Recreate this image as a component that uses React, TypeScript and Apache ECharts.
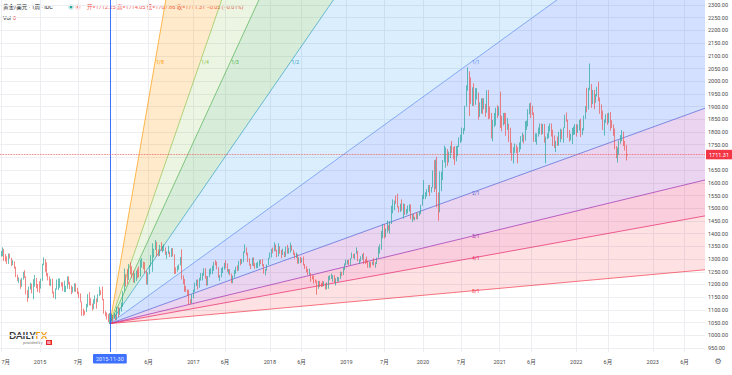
import React, { useEffect, useRef } from "react";
import * as echarts from "echarts";

// ---------- data ----------
const firstOpen = 1315;
// weekly candles per year: [high, low, close]; open = previous close
const yearStarts = ["2014-06-23", "2015-01-05", "2016-01-04", "2017-01-02", "2018-01-01", "2019-01-07", "2020-01-06", "2021-01-04", "2022-01-03"];
const w2014 = [[1326,1307,1316],[1332,1310,1320],[1346,1311,1337],[1340,1293,1310],[1320,1290,1307],[1311,1281,1294],[1322,1281,1310],[1322,1302,1305],[1305,1273,1280],[1296,1276,1287],[1291,1262,1267],[1270,1229,1231],[1239,1214,1216],[1228,1205,1218],[1220,1183,1192],[1226,1191,1222],[1250,1219,1238],[1256,1226,1231],[1232,1161,1171],[1178,1132,1169],[1192,1146,1187],[1207,1180,1201],[1203,1165,1167],[1221,1142,1191],[1238,1191,1222],[1225,1185,1196],[1202,1170,1195],[1213,1167,1186]];
const w2015 = [[1223,1184,1216],[1282,1214,1277],[1307,1276,1294],[1300,1250,1279],[1287,1232,1234],[1245,1216,1227],[1232,1196,1204],[1222,1194,1213],[1223,1164,1167],[1172,1147,1152],[1185,1142,1184],[1220,1180,1199],[1224,1178,1201],[1224,1187,1207],[1209,1192,1203],[1209,1175,1177],[1215,1170,1179],[1195,1170,1189],[1232,1183,1225],[1232,1200,1205],[1211,1181,1189],[1196,1162,1168],[1191,1169,1180],[1205,1172,1201],[1204,1170,1173],[1187,1162,1168],[1172,1147,1157],[1165,1130,1132],[1133,1077,1098],[1105,1077,1095],[1097,1080,1094],[1124,1092,1113],[1162,1110,1159],[1170,1118,1134],[1146,1117,1121],[1125,1098,1103],[1142,1103,1138],[1157,1124,1145],[1145,1105,1137],[1162,1130,1156],[1191,1155,1177],[1178,1159,1163],[1192,1138,1142],[1143,1085,1088],[1095,1075,1081],[1090,1062,1076],[1084,1052,1057],[1088,1046,1061],[1085,1058,1075],[1080,1047,1065],[1088,1065,1076],[1082,1058,1061]];
const w2016 = [[1112,1062,1098],[1112,1072,1089],[1107,1080,1097],[1129,1093,1118],[1174,1112,1173],[1263,1172,1239],[1240,1191,1227],[1261,1201,1222],[1280,1218,1271],[1287,1239,1259],[1272,1226,1254],[1255,1208,1220],[1245,1206,1222],[1255,1214,1243],[1263,1224,1234],[1271,1228,1231],[1297,1232,1290],[1304,1267,1290],[1290,1261,1273],[1288,1245,1252],[1254,1200,1212],[1248,1199,1243],[1277,1240,1275],[1316,1271,1298],[1362,1250,1315],[1341,1306,1340],[1375,1336,1366],[1368,1310,1327],[1338,1311,1323],[1356,1312,1351],[1367,1332,1336],[1352,1326,1336],[1358,1332,1341],[1346,1316,1321],[1330,1301,1326],[1352,1320,1328],[1330,1308,1310],[1343,1308,1338],[1343,1310,1315],[1319,1241,1257],[1267,1242,1251],[1274,1250,1266],[1279,1258,1275],[1308,1275,1304],[1338,1220,1225],[1236,1201,1208],[1222,1171,1178],[1194,1171,1177],[1181,1156,1159],[1179,1122,1134],[1142,1123,1133],[1161,1126,1151]];
const w2017 = [[1180,1146,1173],[1207,1171,1196],[1219,1194,1210],[1220,1180,1190],[1226,1187,1220],[1245,1215,1234],[1245,1216,1238],[1264,1234,1257],[1264,1223,1227],[1233,1195,1201],[1233,1196,1229],[1261,1229,1245],[1264,1240,1249],[1274,1241,1255],[1289,1254,1285],[1296,1275,1284],[1290,1260,1268],[1267,1226,1228],[1237,1214,1228],[1265,1229,1254],[1270,1245,1267],[1285,1258,1280],[1296,1264,1266],[1283,1250,1254],[1261,1241,1256],[1260,1236,1242],[1243,1205,1209],[1235,1205,1228],[1257,1227,1255],[1270,1242,1269],[1275,1252,1258],[1293,1255,1290],[1301,1275,1285],[1300,1281,1291],[1330,1288,1325],[1358,1324,1346],[1338,1315,1320],[1325,1288,1297],[1303,1274,1280],[1281,1261,1275],[1306,1274,1304],[1306,1272,1280],[1284,1262,1266],[1285,1264,1269],[1290,1265,1275],[1297,1271,1294],[1298,1280,1288],[1300,1272,1280],[1280,1243,1248],[1261,1236,1257],[1279,1254,1278],[1305,1277,1303]];
const w2018 = [[1326,1302,1322],[1340,1307,1338],[1345,1323,1332],[1366,1331,1350],[1357,1331,1333],[1337,1307,1316],[1362,1311,1347],[1350,1321,1330],[1336,1303,1323],[1341,1316,1324],[1329,1307,1313],[1349,1309,1347],[1356,1321,1323],[1345,1321,1332],[1365,1325,1345],[1354,1333,1336],[1337,1316,1323],[1326,1302,1314],[1326,1304,1320],[1319,1282,1291],[1307,1282,1302],[1308,1284,1294],[1304,1287,1298],[1310,1275,1278],[1281,1261,1269],[1272,1248,1252],[1261,1238,1241],[1262,1238,1241],[1245,1211,1231],[1236,1220,1223],[1235,1204,1214],[1220,1207,1212],[1215,1160,1184],[1214,1183,1206],[1214,1190,1201],[1206,1190,1197],[1214,1192,1194],[1212,1193,1199],[1204,1180,1192],[1208,1181,1203],[1233,1183,1222],[1236,1217,1227],[1243,1222,1233],[1237,1211,1233],[1237,1205,1209],[1225,1196,1222],[1230,1212,1222],[1229,1211,1222],[1251,1221,1248],[1250,1234,1238],[1266,1237,1256],[1283,1256,1280],[1298,1276,1286]];
const w2019 = [[1297,1279,1287],[1298,1276,1282],[1304,1277,1303],[1326,1302,1318],[1320,1304,1315],[1322,1299,1322],[1346,1321,1329],[1332,1291,1294],[1300,1281,1298],[1311,1290,1302],[1320,1298,1313],[1325,1281,1292],[1300,1281,1291],[1310,1285,1290],[1294,1266,1275],[1289,1266,1286],[1289,1267,1281],[1290,1278,1285],[1304,1274,1277],[1288,1266,1284],[1306,1280,1305],[1348,1305,1340],[1358,1322,1341],[1411,1337,1399],[1439,1382,1409],[1437,1381,1399],[1420,1386,1416],[1452,1404,1426],[1434,1412,1419],[1449,1400,1440],[1510,1438,1497],[1535,1480,1513],[1530,1492,1527],[1550,1517,1520],[1557,1503,1507],[1508,1484,1488],[1518,1485,1517],[1535,1490,1497],[1519,1459,1505],[1517,1474,1489],[1497,1474,1490],[1511,1480,1505],[1516,1487,1514],[1515,1457,1459],[1476,1446,1468],[1479,1455,1463],[1466,1452,1464],[1484,1457,1460],[1480,1456,1476],[1486,1471,1479],[1514,1477,1511],[1553,1510,1552]];
const w2020 = [[1611,1536,1557],[1563,1536,1557],[1575,1546,1571],[1591,1563,1589],[1592,1548,1570],[1584,1562,1584],[1649,1581,1643],[1689,1564,1585],[1692,1576,1674],[1703,1504,1530],[1562,1451,1498],[1645,1484,1617],[1644,1567,1620],[1690,1611,1683],[1747,1681,1683],[1739,1660,1727],[1733,1667,1700],[1723,1680,1703],[1746,1697,1743],[1765,1717,1735],[1741,1693,1730],[1745,1671,1685],[1745,1686,1730],[1746,1705,1743],[1779,1741,1771],[1789,1757,1774],[1818,1763,1798],[1815,1791,1810],[1903,1805,1902],[1984,1900,1975],[2055,1963,2035],[2039,1863,1944],[2015,1911,1940],[1976,1903,1964],[1992,1902,1934],[1973,1907,1940],[1973,1928,1950],[1955,1849,1862],[1917,1860,1900],[1933,1873,1930],[1933,1871,1899],[1933,1890,1902],[1911,1860,1879],[1965,1876,1951],[1965,1850,1889],[1900,1853,1872],[1875,1775,1788],[1848,1764,1839],[1875,1820,1839],[1896,1826,1881],[1906,1855,1877],[1900,1864,1895]];
const w2021 = [[1959,1816,1849],[1864,1803,1828],[1875,1826,1856],[1876,1831,1847],[1875,1785,1814],[1855,1808,1824],[1833,1761,1784],[1817,1717,1734],[1758,1687,1699],[1740,1676,1727],[1755,1718,1745],[1750,1717,1733],[1741,1677,1728],[1759,1721,1744],[1784,1732,1777],[1797,1762,1777],[1790,1755,1769],[1843,1766,1831],[1845,1808,1844],[1890,1822,1881],[1913,1870,1903],[1916,1855,1891],[1903,1867,1877],[1877,1761,1764],[1795,1761,1781],[1795,1750,1784],[1818,1782,1808],[1834,1792,1812],[1833,1789,1802],[1832,1792,1814],[1832,1758,1763],[1782,1677,1780],[1795,1772,1781],[1823,1776,1818],[1834,1802,1827],[1834,1782,1788],[1809,1745,1754],[1787,1737,1750],[1765,1721,1761],[1782,1746,1757],[1801,1746,1768],[1813,1760,1796],[1810,1772,1783],[1818,1758,1818],[1868,1816,1865],[1877,1841,1846],[1849,1778,1792],[1808,1762,1783],[1793,1767,1783],[1816,1753,1798],[1822,1788,1811],[1831,1790,1829]];
const w2022 = [[1831,1782,1797],[1830,1800,1817],[1848,1806,1835],[1853,1780,1791],[1815,1788,1807],[1865,1806,1859],[1902,1851,1898],[1974,1878,1889],[1974,1890,1966],[2070,1965,1988],[1989,1895,1921],[1966,1910,1958],[1966,1890,1925],[1949,1915,1947],[1978,1940,1974],[1998,1921,1931],[1936,1872,1897],[1909,1850,1883],[1884,1808,1811],[1849,1786,1846],[1870,1836,1853],[1874,1828,1851],[1876,1836,1871],[1879,1805,1840],[1847,1816,1827],[1830,1785,1811],[1814,1732,1742],[1745,1697,1703],[1739,1680,1727],[1767,1711,1766],[1788,1754,1775],[1808,1764,1802],[1802,1745,1747],[1765,1727,1737],[1749,1688,1711.36],[1714.05,1707.86,1711.31]];
const yearWeeks = [w2014, w2015, w2016, w2017, w2018, w2019, w2020, w2021, w2022];

// x-axis ticks
const xGridDates = ["2014-07-01","2015-01-01","2015-07-01","2016-01-01","2016-06-01","2017-01-01","2017-06-01","2018-01-01","2018-06-01","2019-01-01","2019-07-01","2020-01-01","2020-07-01","2021-01-01","2021-06-01","2022-01-01","2022-06-01","2023-01-01","2023-06-01"];
const xLabelDates = ["2014-07-01","2015-01-01","2015-07-01","2016-06-01","2017-01-01","2017-06-01","2018-01-01","2018-06-01","2019-01-01","2019-07-01","2020-01-01","2020-07-01","2021-01-01","2021-06-01","2022-01-01","2022-06-01","2023-01-01","2023-06-01"];
const xLabelTexts = ["7月","2015","7月","6月","2017","6月","2018","6月","2019","7月","2020","7月","2021","6月","2022","6月","2023","6月"];
// y-axis ticks
const priceTicks = [950,1000,1050,1100,1150,1200,1250,1300,1350,1400,1450,1500,1550,1600,1650,1700,1750,1800,1850,1900,1950,2000,2050,2100,2150,2200,2250,2300];

// Gann fan
const fanOrigin = ["2015-11-30", 1046];
const fanAnchor = ["2020-08-17", 2075];
const fanLabels = ["1/8","1/4","1/3","1/2","1/1","2/1","3/1","4/1","8/1"];
const fanTimeDiv = [8,4,3,2,1,1,1,1,1];
const fanPriceDiv = [1,1,1,1,1,2,3,4,8];
const fanLineColors = ["#ff9800","#8bc34a","#4caf50","#2f9fc2","#5b8def","#4e5fd6","#9c27b0","#e91e63","#f23645"];
const fanFillColors = ["rgba(255,152,0,0.2)","rgba(139,195,74,0.16)","rgba(76,175,80,0.22)","rgba(33,150,243,0.16)","rgba(41,98,255,0.2)","rgba(156,39,176,0.2)","rgba(233,30,99,0.22)","rgba(242,54,69,0.15)"];

const headerTitle = "黄金/美元 · 1周 · IDC";
const headerOHLC = "开=1712.25 高=1714.05 低=1707.86 收=1711.31 −0.05 (−0.01%)";
const lowLineLevel = 1097;

// ---------- helpers ----------
const DAY = 86400000;
const ts = (s: string) => Date.parse(s + "T00:00:00Z");

function buildCandles() {
  const out: number[][] = [];
  let prev = firstOpen;
  yearWeeks.forEach((weeks, y) => {
    const start = ts(yearStarts[y]);
    weeks.forEach(([h, l, c], i) => {
      const o = prev;
      out.push([start + i * 7 * DAY, o, c, Math.min(l, o, c), Math.max(h, o, c)]);
      prev = c;
    });
  });
  return out;
}

const FONT = 'Roboto, "Noto Sans CJK SC", sans-serif';

export default function App() {
  const ref = useRef<HTMLDivElement>(null);
  useEffect(() => {
    if (!ref.current) return;
    const chart = echarts.init(ref.current, null, { renderer: "svg" });
    const candles = buildCandles();
    const last = candles[candles.length - 1];
    const labelMap: Record<string, string> = {};
    xLabelDates.forEach((d, i) => (labelMap[String(ts(d))] = xLabelTexts[i]));
    const gridColor = "#eceef2";

    const t0 = ts(fanOrigin[0] as string);
    const p0 = fanOrigin[1] as number;
    const dt = ts(fanAnchor[0] as string) - t0;
    const dp = (fanAnchor[1] as number) - p0;

    const option: any = {
      animation: false,
      backgroundColor: "#ffffff",
      textStyle: { fontFamily: FONT },
      grid: { left: 0, right: 27, top: 0, bottom: 23, outerBoundsMode: "none" },
      xAxis: {
        type: "value",
        min: ts("2014-06-24"),
        max: ts("2023-09-07"),
        axisLine: { show: false },
        axisTick: { show: false, customValues: xGridDates.map(ts) },
        splitLine: { show: true, lineStyle: { color: gridColor, width: 1 } },
        axisLabel: {
          customValues: xLabelDates.map(ts),
          formatter: (v: number) => labelMap[String(Math.round(v))] ?? "",
          fontSize: 5.5,
          color: "#4a4a4a",
          margin: 7,
          fontFamily: FONT,
          alignMinLabel: "left",
        },
      },
      yAxis: {
        type: "value",
        position: "right",
        min: 934.3,
        max: 2319.7,
        splitNumber: 28,
        axisLine: { show: false },
        axisTick: { show: false, customValues: priceTicks },
        splitLine: { show: true, lineStyle: { color: gridColor, width: 1 } },
        axisLabel: {
          customValues: priceTicks,
          fontSize: 5.5,
          color: "#4a4a4a",
          margin: 3,
          fontFamily: FONT,
          formatter: (v: number) => (v === 1700 ? "" : Number(v).toFixed(2)),
        },
      },
      series: [
        {
          type: "custom",
          clip: true,
          z: 1,
          silent: true,
          data: fanLabels.map((_, i) => [t0, p0, i]),
          renderItem: (params: any, api: any) => {
            const i = params.dataIndex;
            const o = api.coord([t0, p0]);
            const pts = fanLabels.map((_, k) => api.coord([t0 + dt / fanTimeDiv[k], p0 + dp / fanPriceDiv[k]]));
            const far = (p: number[]) => [o[0] + (p[0] - o[0]) * 40, o[1] + (p[1] - o[1]) * 40];
            const children: any[] = [];
            if (i < fanLabels.length - 1) {
              children.push({
                type: "polygon",
                z2: 0,
                shape: { points: [o, far(pts[i]), far(pts[i + 1])] },
                style: { fill: fanFillColors[i] },
              });
            }
            const f = far(pts[i]);
            children.push({
              type: "line",
              z2: 5,
              shape: { x1: o[0], y1: o[1], x2: f[0], y2: f[1] },
              style: { stroke: fanLineColors[i], lineWidth: 0.8, opacity: 0.85 },
            });
            children.push({
              type: "text",
              z2: 6,
              x: pts[i][0] + 1,
              y: pts[i][1],
              style: {
                text: fanLabels[i],
                fill: fanLineColors[i],
                fontSize: 5,
                fontFamily: FONT,
                align: "left",
                verticalAlign: "middle",
              },
            });
            return { type: "group", children };
          },
        },
        {
          type: "candlestick",
          z: 3,
          data: candles,
          barWidth: 0.7,
          itemStyle: {
            color: "#26a69a",
            color0: "#ef5350",
            borderColor: "#26a69a",
            borderColor0: "#ef5350",
            borderWidth: 0.7,
          },
          markLine: {
            silent: true,
            symbol: ["none", "none"],
            z: 5,
            data: [
              {
                xAxis: t0,
                lineStyle: { color: "#2962ff", width: 1, type: "solid", opacity: 0.9 },
                label: {
                  show: true,
                  position: "start",
                  distance: 2,
                  formatter: fanOrigin[0] as string,
                  backgroundColor: "#2962ff",
                  color: "#ffffff",
                  fontSize: 5.5,
                  fontFamily: FONT,
                  padding: [2, 3],
                  borderRadius: 1,
                },
              },
              {
                yAxis: last[2],
                lineStyle: { color: "#ef5350", width: 0.8, type: "dotted" },
                label: {
                  show: true,
                  position: "end",
                  distance: 1,
                  formatter: last[2].toFixed(2),
                  backgroundColor: "#f23645",
                  color: "#ffffff",
                  fontSize: 5.5,
                  fontFamily: FONT,
                  padding: [2, 3],
                },
              },
              [
                { coord: [candles[0][0], lowLineLevel], lineStyle: { color: "#b2b5be", width: 0.8, type: "dotted" }, label: { show: false } },
                { coord: [last[0], lowLineLevel] },
              ],
            ],
          },
        },
      ],
      graphic: [
        { type: "text", left: 3, top: 4, style: { text: headerTitle, fill: "#131722", fontSize: 5.5, fontFamily: FONT } },
        { type: "circle", shape: { cx: 71, cy: 7, r: 3 }, style: { fill: "rgba(38,166,154,0.22)" } },
        { type: "circle", shape: { cx: 71, cy: 7, r: 1.3 }, style: { fill: "#26a69a" } },
        { type: "circle", shape: { cx: 78, cy: 7, r: 3 }, style: { fill: "rgba(242,54,69,0.15)" } },
        { type: "text", x: 78, y: 7, style: { text: "=", fill: "#f23645", fontSize: 5.5, align: "center", verticalAlign: "middle", fontFamily: FONT } },
        { type: "text", left: 87, top: 4, style: { text: headerOHLC, fill: "#ef5350", fontSize: 5.5, fontFamily: FONT } },
        { type: "text", left: 3, top: 15, style: { text: "Vol", fill: "#131722", fontSize: 5.5, fontFamily: FONT } },
        { type: "text", left: 13, top: 15, style: { text: "0", fill: "#ef5350", fontSize: 5.5, fontFamily: FONT } },
        {
          type: "text",
          left: 9,
          top: 330,
          style: {
            text: "{a|DAILY}{b|FX}",
            rich: {
              a: { fill: "#3b3b3b", fontSize: 9.5, fontWeight: "bold", fontFamily: "Lato, sans-serif" },
              b: { fill: "#f39c12", fontSize: 9.5, fontWeight: "bold", fontFamily: "Lato, sans-serif" },
            },
          },
        },
        { type: "text", left: 23, top: 341, style: { text: "provided by", fill: "#777", fontSize: 3.8, fontFamily: FONT } },
        { type: "rect", shape: { x: 46, y: 340, width: 6, height: 5 }, style: { fill: "#e8262b" } },
        { type: "text", x: 49, y: 342.6, style: { text: "IG", fill: "#fff", fontSize: 3.5, fontWeight: "bold", align: "center", verticalAlign: "middle", fontFamily: FONT } },
        { type: "text", x: 718, y: 361, style: { text: "⚙", fill: "#6a6d78", fontSize: 8, align: "center", verticalAlign: "middle", fontFamily: "DejaVu Sans" } },
      ],
    };
    chart.setOption(option);
    return () => chart.dispose();
  }, []);
  return (
    <div
      ref={ref}
      style={{ position: "absolute", left: 0, top: 0, width: 732, height: 375, background: "#fff" }}
    />
  );
}
